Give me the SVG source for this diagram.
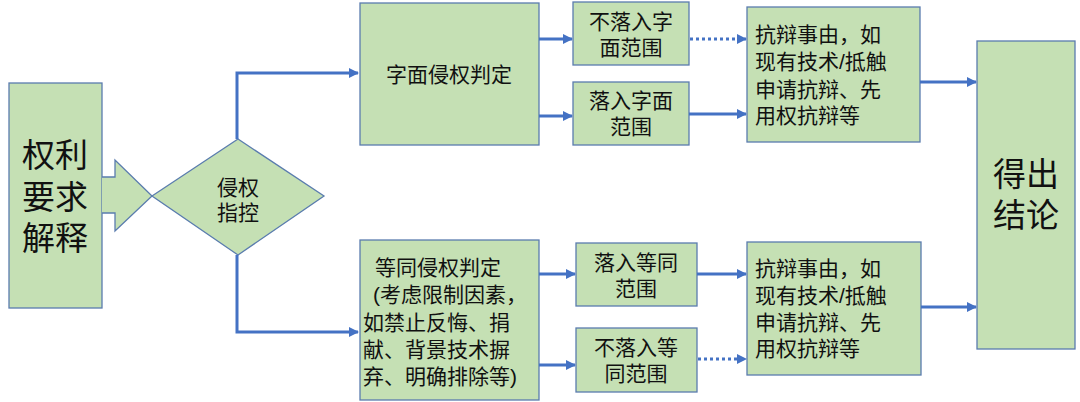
<svg xmlns="http://www.w3.org/2000/svg" width="1080" height="402" viewBox="0 0 1080 402">
<defs>
<marker id="ah" markerWidth="10" markerHeight="10" refX="9" refY="5" orient="auto" markerUnits="userSpaceOnUse">
<path d="M0,0 L10,5 L0,10 Z" fill="#4472C4"/>
</marker>
<style>
.n{fill:#C5E0B4;stroke:#5A7CAE;stroke-width:1.3}
.t{font-family:"Liberation Sans","Noto Sans CJK SC",sans-serif;fill:#111}
.c{fill:none;stroke:#4472C4;stroke-width:3}
.d{fill:none;stroke:#4472C4;stroke-width:3;stroke-dasharray:3 3}
</style>
</defs>
<rect width="1080" height="402" fill="#fff"/>
<g id="claim">
<rect class="n" x="9" y="83" width="93" height="225"/>
<text class="t" font-size="33" text-anchor="middle"><tspan x="55" y="167">权利</tspan><tspan x="55" y="209">要求</tspan><tspan x="55" y="250">解释</tspan></text>
</g>
<g id="bigarrow">
<path class="n" d="M102,177 L115,177 L115,160 L152,196 L115,231 L115,213 L102,213"/>
</g>
<g id="accuse">
<path class="n" d="M152,196 L238,139 L324,196 L238,255 Z"/>
<text class="t" font-size="21" text-anchor="middle"><tspan x="238" y="195">侵权</tspan><tspan x="238" y="220">指控</tspan></text>
</g>
<g id="literal">
<rect class="n" x="360" y="3" width="179" height="142"/>
<text class="t" font-size="21" x="449" y="82" text-anchor="middle">字面侵权判定</text>
</g>
<g id="notLiteral">
<rect class="n" x="573" y="2" width="116" height="63"/>
<text class="t" font-size="21" text-anchor="middle"><tspan x="631" y="29">不落入字</tspan><tspan x="631" y="55">面范围</tspan></text>
</g>
<g id="inLiteral">
<rect class="n" x="573" y="82" width="116" height="63"/>
<text class="t" font-size="21" text-anchor="middle"><tspan x="631" y="108">落入字面</tspan><tspan x="631" y="134">范围</tspan></text>
</g>
<g id="equiv">
<rect class="n" x="360" y="240" width="179" height="160"/>
<text class="t" font-size="21"><tspan x="375" y="275">等同侵权判定</tspan><tspan x="373" y="302">(考虑限制因素，</tspan><tspan x="363" y="330">如禁止反悔、捐</tspan><tspan x="363" y="357">献、背景技术摒</tspan><tspan x="363" y="384">弃、明确排除等)</tspan></text>
</g>
<g id="inEquiv">
<rect class="n" x="576" y="243" width="121" height="63"/>
<text class="t" font-size="21" text-anchor="middle"><tspan x="636" y="270">落入等同</tspan><tspan x="636" y="296">范围</tspan></text>
</g>
<g id="notEquiv">
<rect class="n" x="576" y="328" width="121" height="64"/>
<text class="t" font-size="21" text-anchor="middle"><tspan x="636" y="355">不落入等</tspan><tspan x="636" y="381">同范围</tspan></text>
</g>
<g id="defense1">
<rect class="n" x="747" y="7" width="173" height="135"/>
<text class="t" font-size="21"><tspan x="755" y="42">抗辩事由，如</tspan><tspan x="755" y="69">现有技术/抵触</tspan><tspan x="755" y="97">申请抗辩、先</tspan><tspan x="755" y="123">用权抗辩等</tspan></text>
</g>
<g id="defense2">
<rect class="n" x="747" y="242" width="174" height="133"/>
<text class="t" font-size="21"><tspan x="755" y="276">抗辩事由，如</tspan><tspan x="755" y="303">现有技术/抵触</tspan><tspan x="755" y="330">申请抗辩、先</tspan><tspan x="755" y="356">用权抗辩等</tspan></text>
</g>
<g id="conclusion">
<rect class="n" x="977" y="41" width="98" height="308"/>
<text class="t" font-size="33" text-anchor="middle"><tspan x="1026" y="186">得出</tspan><tspan x="1026" y="227">结论</tspan></text>
</g>
<g id="connectors">
<path class="c" d="M237,139 L237,73 L358,73" marker-end="url(#ah)"/>
<path class="c" d="M237,255 L237,332 L358,332" marker-end="url(#ah)"/>
<path class="c" d="M539,39 L572,39" marker-end="url(#ah)"/>
<path class="c" d="M539,116 L572,116" marker-end="url(#ah)"/>
<path class="d" d="M690,39 L746,39" marker-end="url(#ah)"/>
<path class="c" d="M689,114 L746,114" marker-end="url(#ah)"/>
<path class="c" d="M539,274 L575,274" marker-end="url(#ah)"/>
<path class="c" d="M539,365 L575,365" marker-end="url(#ah)"/>
<path class="c" d="M697,274 L746,274" marker-end="url(#ah)"/>
<path class="d" d="M698,359 L746,359" marker-end="url(#ah)"/>
<path class="c" d="M920,82 L976,82" marker-end="url(#ah)"/>
<path class="c" d="M921,307 L976,307" marker-end="url(#ah)"/>
</g>
</svg>
